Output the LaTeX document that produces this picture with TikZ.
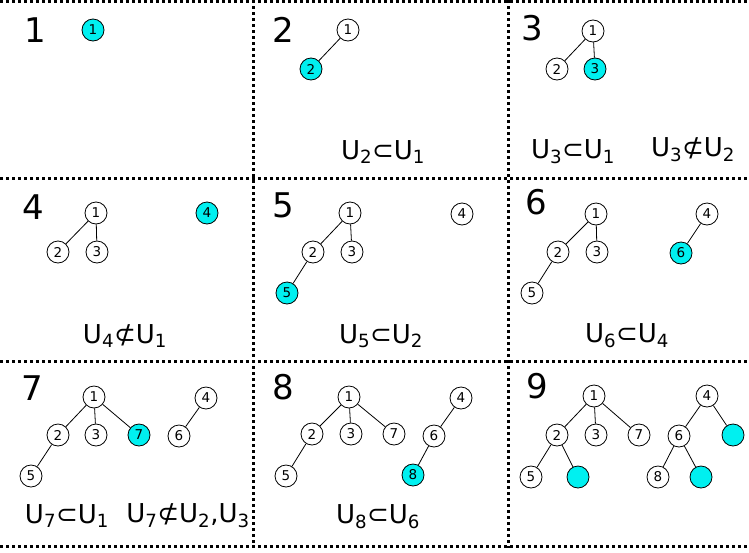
\documentclass[tikz,border=0pt]{standalone}
\usepackage{fontspec}
\setmainfont{DejaVu Sans}
\definecolor{aquafill}{RGB}{0,240,240}
\begin{document}
\begin{tikzpicture}[x=1pt,y=-1pt,
  vx/.style={circle,draw,line width=0.8pt,minimum size=22pt,inner sep=0pt,font=\fontsize{13.5}{13.5}\selectfont,fill=white},
  hot/.style={vx,fill=aquafill},
  edge/.style={line width=0.8pt},
  grid/.style={line width=3pt,dash pattern=on 3pt off 3pt},
  num/.style={font=\fontsize{34}{34}\selectfont},
  rel/.style={font=\fontsize{26}{26}\selectfont}]
\useasboundingbox (0,0) rectangle (749,552);
% grid
\coordinate (gTL) at (0,1.5); \coordinate (gTR) at (749,1.5);
\coordinate (gAL) at (0,178); \coordinate (gAR) at (749,178);
\coordinate (gBL) at (0,361); \coordinate (gBR) at (749,361);
\coordinate (gCL) at (0,546); \coordinate (gCR) at (749,546);
\coordinate (v1T) at (253,0); \coordinate (v1B) at (253,548);
\coordinate (v2T) at (508,0); \coordinate (v2B) at (508,548);
\draw[grid] (gTL) -- (gTR);
\draw[grid] (gAL) -- (gAR);
\draw[grid] (gBL) -- (gBR);
\draw[grid] (gCL) -- (gCR);
\draw[grid] (v1T) -- (v1B);
\draw[grid] (v2T) -- (v2B);
% panel 1
\node[num] (t1) at (35,30) {1};
\node[hot] (p1n1) at (93,30) {1};
% panel 2
\node[num] (t2) at (283,30) {2};
\node[vx] (p2n1) at (348,30) {1};
\node[hot] (p2n2) at (311,69) {2};
\draw[edge] (p2n1) -- (p2n2);
\node[rel] (r2) at (383,152) {U\textsubscript{2}⊂U\textsubscript{1}};
% panel 3
\node[num] (t3) at (532,28) {3};
\node[vx] (p3n1) at (593,31) {1};
\node[vx] (p3n2) at (557,69) {2};
\node[hot] (p3n3) at (595,69) {3};
\draw[edge] (p3n1) -- (p3n2);
\draw[edge] (p3n1) -- (p3n3);
\node[rel] (r3a) at (573,152) {U\textsubscript{3}⊂U\textsubscript{1}};
\node[rel] (r3b) at (693,150) {U\textsubscript{3}⊄U\textsubscript{2}};
% panel 4
\node[num] (t4) at (33,207) {4};
\node[vx] (p4n1) at (96,213) {1};
\node[vx] (p4n2) at (58,252) {2};
\node[vx] (p4n3) at (97,252) {3};
\node[hot] (p4n4) at (207,213) {4};
\draw[edge] (p4n1) -- (p4n2);
\draw[edge] (p4n1) -- (p4n3);
\node[rel] (r4) at (125,336) {U\textsubscript{4}⊄U\textsubscript{1}};
% panel 5
\node[num] (t5) at (283,205) {5};
\node[vx] (p5n1) at (350,213) {1};
\node[vx] (p5n2) at (313,252) {2};
\node[vx] (p5n3) at (352,252) {3};
\node[hot] (p5n5) at (287,293) {5};
\node[vx] (p5n4) at (462,214) {4};
\draw[edge] (p5n1) -- (p5n2);
\draw[edge] (p5n1) -- (p5n3);
\draw[edge] (p5n2) -- (p5n5);
\node[rel] (r5) at (381,336) {U\textsubscript{5}⊂U\textsubscript{2}};
% panel 6
\node[num] (t6) at (536,202) {6};
\node[vx] (p6n1) at (596,214) {1};
\node[vx] (p6n2) at (558,252) {2};
\node[vx] (p6n3) at (597,252) {3};
\node[vx] (p6n5) at (532,293) {5};
\node[vx] (p6n4) at (707,214) {4};
\node[hot] (p6n6) at (681,253) {6};
\draw[edge] (p6n1) -- (p6n2);
\draw[edge] (p6n1) -- (p6n3);
\draw[edge] (p6n2) -- (p6n5);
\draw[edge] (p6n4) -- (p6n6);
\node[rel] (r6) at (627,336) {U\textsubscript{6}⊂U\textsubscript{4}};
% panel 7
\node[num] (t7) at (32,388) {7};
\node[vx] (p7n1) at (94,397) {1};
\node[vx] (p7n2) at (58,435) {2};
\node[vx] (p7n3) at (96,435) {3};
\node[hot] (p7n7) at (139,435) {7};
\node[vx] (p7n5) at (31,476) {5};
\node[vx] (p7n4) at (206,398) {4};
\node[vx] (p7n6) at (179,436) {6};
\draw[edge] (p7n1) -- (p7n2);
\draw[edge] (p7n1) -- (p7n3);
\draw[edge] (p7n1) -- (p7n7);
\draw[edge] (p7n2) -- (p7n5);
\draw[edge] (p7n4) -- (p7n6);
\node[rel] (r7a) at (67,516) {U\textsubscript{7}⊂U\textsubscript{1}};
\node[rel] (r7b) at (188,516) {U\textsubscript{7}⊄U\textsubscript{2},U\textsubscript{3}};
% panel 8
\node[num] (t8) at (283,387) {8};
\node[vx] (p8n1) at (349,397) {1};
\node[vx] (p8n2) at (312,434) {2};
\node[vx] (p8n3) at (351,434) {3};
\node[vx] (p8n7) at (394,434) {7};
\node[vx] (p8n5) at (286,476) {5};
\node[vx] (p8n4) at (461,398) {4};
\node[vx] (p8n6) at (434,436) {6};
\node[hot] (p8n8) at (413,475) {8};
\draw[edge] (p8n1) -- (p8n2);
\draw[edge] (p8n1) -- (p8n3);
\draw[edge] (p8n1) -- (p8n7);
\draw[edge] (p8n2) -- (p8n5);
\draw[edge] (p8n4) -- (p8n6);
\draw[edge] (p8n6) -- (p8n8);
\node[rel] (r8) at (378,517) {U\textsubscript{8}⊂U\textsubscript{6}};
% panel 9
\node[num] (t9) at (537,386) {9};
\node[vx] (p9n1) at (594,396) {1};
\node[vx] (p9n2) at (557,435) {2};
\node[vx] (p9n3) at (596,435) {3};
\node[vx] (p9n7) at (639,435) {7};
\node[vx] (p9n5) at (531,477) {5};
\node[hot] (p9a) at (578,477) {};
\node[vx] (p9n4) at (707,396) {4};
\node[vx] (p9n6) at (679,436) {6};
\node[hot] (p9b) at (733,435) {};
\node[vx] (p9n8) at (658,477) {8};
\node[hot] (p9c) at (701,477) {};
\draw[edge] (p9n1) -- (p9n2);
\draw[edge] (p9n1) -- (p9n3);
\draw[edge] (p9n1) -- (p9n7);
\draw[edge] (p9n2) -- (p9n5);
\draw[edge] (p9n2) -- (p9a);
\draw[edge] (p9n4) -- (p9n6);
\draw[edge] (p9n4) -- (p9b);
\draw[edge] (p9n6) -- (p9n8);
\draw[edge] (p9n6) -- (p9c);
\end{tikzpicture}
\end{document}
